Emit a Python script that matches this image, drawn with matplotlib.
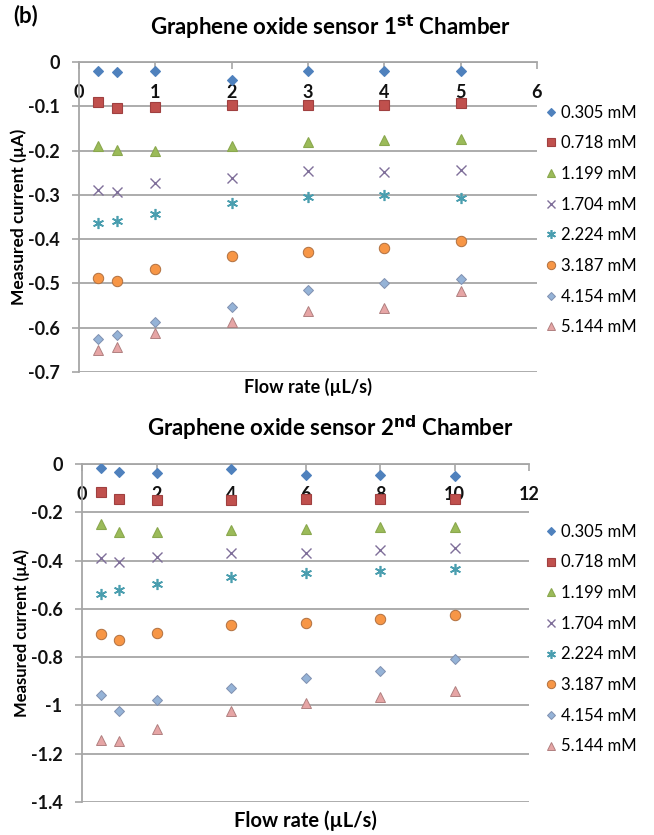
import matplotlib
matplotlib.use("Agg")
import matplotlib.pyplot as plt

plt.rcParams['font.family'] = ['Lato', 'DejaVu Sans']

# concentrations shown in both legends
labels = ['0.305 mM', '0.718 mM', '1.199 mM', '1.704 mM',
          '2.224 mM', '3.187 mM', '4.154 mM', '5.144 mM']

# 1st chamber: flow rate (uL/s) and measured current (uA)
flow1 = [0.25, 0.5, 1, 2, 3, 4, 5]
cur1_0305 = [-0.020, -0.022, -0.020, -0.041, -0.020, -0.020, -0.020]
cur1_0718 = [-0.090, -0.105, -0.102, -0.098, -0.098, -0.098, -0.093]
cur1_1199 = [-0.189, -0.199, -0.200, -0.189, -0.180, -0.176, -0.175]
cur1_1704 = [-0.289, -0.293, -0.274, -0.261, -0.246, -0.248, -0.245]
cur1_2224 = [-0.364, -0.360, -0.344, -0.319, -0.304, -0.300, -0.308]
cur1_3187 = [-0.487, -0.494, -0.468, -0.438, -0.428, -0.419, -0.404]
cur1_4154 = [-0.625, -0.616, -0.588, -0.554, -0.515, -0.498, -0.490]
cur1_5144 = [-0.650, -0.643, -0.611, -0.586, -0.562, -0.555, -0.517]

# 2nd chamber
flow2 = [0.5, 1, 2, 4, 6, 8, 10]
cur2_0305 = [-0.015, -0.034, -0.039, -0.021, -0.046, -0.046, -0.048]
cur2_0718 = [-0.115, -0.146, -0.149, -0.149, -0.146, -0.146, -0.146]
cur2_1199 = [-0.248, -0.280, -0.280, -0.273, -0.270, -0.262, -0.262]
cur2_1704 = [-0.390, -0.407, -0.386, -0.367, -0.367, -0.356, -0.347]
cur2_2224 = [-0.538, -0.522, -0.498, -0.469, -0.450, -0.442, -0.435]
cur2_3187 = [-0.704, -0.729, -0.698, -0.667, -0.657, -0.643, -0.625]
cur2_4154 = [-0.957, -1.023, -0.977, -0.926, -0.885, -0.857, -0.809]
cur2_5144 = [-1.143, -1.147, -1.097, -1.023, -0.988, -0.963, -0.939]

# Excel-like marker styles: (marker, face, edge, size, edge width)
styles = [
    ('D', '#4F81BD', '#4F81BD', 5.5, 0.8),
    ('s', '#C0504D', '#A04040', 7, 0.8),
    ('^', '#9BBB59', '#8AA84E', 7.5, 0.8),
    ('x', '#7F6F9A', '#7F6F9A', 7, 1.0),
    ((6, 2, 0), '#4A9EAF', '#4A9EAF', 8, 1.2),
    ('o', '#F79646', '#B07040', 7.5, 0.7),
    ('D', '#95B3D7', '#8090B0', 5.5, 0.7),
    ('^', '#E6A5A5', '#B08080', 7.5, 0.7),
]

GRID = '#A6A6A6'


def draw_chart(ax, flow, series, xmax, xstep, ymin, ystep):
    for vals, lab, (m, fc, ec, ms, mew) in zip(series, labels, styles):
        ax.plot(flow, vals, linestyle='none', marker=m, markersize=ms,
                markerfacecolor=fc, markeredgecolor=ec, markeredgewidth=mew,
                color=ec, label=lab, zorder=3)
    ax.set_xlim(0, xmax)
    ax.set_ylim(ymin, 0)
    # x axis line sits at zero current, like the Excel original
    ax.spines['bottom'].set_position(('data', 0))
    ax.spines['top'].set_visible(False)
    ax.spines['right'].set_visible(False)
    for s in ('bottom', 'left'):
        ax.spines[s].set_color(GRID)
        ax.spines[s].set_linewidth(1.3)
    ax.tick_params(axis='both', direction='out', length=5, width=1.2,
                   color=GRID)
    ax.tick_params(axis='x', pad=11)
    ax.tick_params(axis='y', pad=9)
    ax.yaxis.grid(True, color=GRID, linewidth=1.3)
    ax.set_axisbelow(True)

    xt = [i * xstep for i in range(int(round(xmax / xstep)) + 1)]
    ax.set_xticks(xt)
    ax.set_xticklabels([str(v) for v in xt])
    n = int(round(-ymin / ystep))
    yt = [-i * ystep for i in range(n + 1)]
    ax.set_yticks(yt)
    ax.set_yticklabels(['0' if v == 0 else ('%g' % round(v, 2)) for v in yt])
    for t in ax.get_xticklabels() + ax.get_yticklabels():
        t.set_fontweight('bold')
        t.set_fontsize(13)
        t.set_color('#111111')


fig = plt.figure(figsize=(6.54, 8.35), dpi=100)

ax1 = fig.add_axes([0.1208, 0.5545, 0.7003, 0.3713])
draw_chart(ax1, flow1, [cur1_0305, cur1_0718, cur1_1199, cur1_1704,
                        cur1_2224, cur1_3187, cur1_4154, cur1_5144],
           6, 1, -0.7, 0.1)
ax1.set_xlabel('Flow rate (\u00b5L/s)', fontweight='bold', fontsize=13,
               va='center')
ax1.xaxis.set_label_coords(0.5, -0.048)
ax1.set_ylabel('Measured current (\u00b5A)', fontweight='bold', fontsize=12.5,
               va='center')
ax1.yaxis.set_label_coords(-0.131, 0.5)

ax2 = fig.add_axes([0.1254, 0.0395, 0.6835, 0.4048])
draw_chart(ax2, flow2, [cur2_0305, cur2_0718, cur2_1199, cur2_1704,
                        cur2_2224, cur2_3187, cur2_4154, cur2_5144],
           12, 2, -1.4, 0.2)
ax2.set_xlabel('Flow rate (\u00b5L/s)', fontweight='bold', fontsize=14.5,
               va='center')
ax2.xaxis.set_label_coords(0.5, -0.056)
ax2.set_ylabel('Measured current (\u00b5A)', fontweight='bold', fontsize=12,
               va='center')
ax2.yaxis.set_label_coords(-0.134, 0.5)

fig.text(0.505, 0.967, 'Graphene oxide sensor 1$^{\\mathbf{st}}$ Chamber',
         ha='center', va='center', fontsize=16, fontweight='bold')
fig.text(0.505, 0.487, 'Graphene oxide sensor 2$^{\\mathbf{nd}}$ Chamber',
         ha='center', va='center', fontsize=16, fontweight='bold')
fig.text(0.02, 0.981, '(b)', ha='left', va='center', fontsize=16,
         fontweight='bold')

for ax, y0 in ((ax1, 1 - 98 / 835), (ax2, 1 - 517 / 835)):
    ax.legend(loc='upper left', bbox_to_anchor=(0.825, y0),
              bbox_transform=fig.transFigure, frameon=False, fontsize=12,
              handlelength=0.6, handletextpad=0.3, labelspacing=0.88,
              borderaxespad=0, markerscale=0.8)

fig.savefig('out.png', dpi=100)
